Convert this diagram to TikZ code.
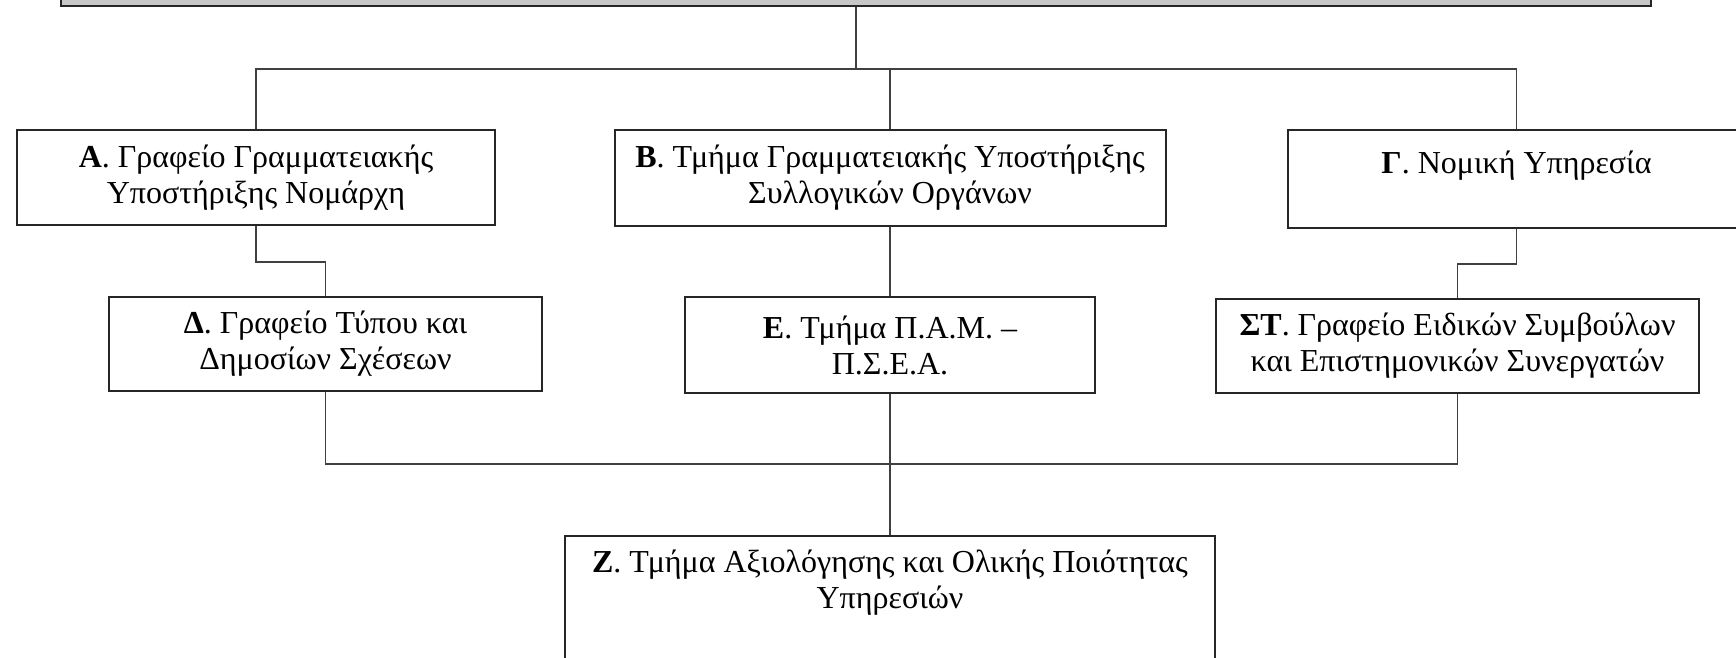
\documentclass[tikz,border=0pt]{standalone}
\usepackage{fontspec}
\setmainfont{Liberation Serif}

\begin{document}
\begin{tikzpicture}[x=1pt,y=1pt,yscale=-1,xscale=1,
  unit/.style={draw=black!85, line width=2pt, rectangle, inner sep=0pt, align=center, font=\fontsize{32}{36}\selectfont},
  link/.style={draw=black!75, line width=1.5pt}]
\useasboundingbox (0,0) rectangle (1736,657);

%Shape: Rectangle [top, cut by the page]
\node [unit, fill=black!22, minimum width=1590pt, minimum height=60pt] (top) at (856,-24) {};

%Shape: Rectangle [first row]
\node [unit, minimum width=478pt, minimum height=95pt] (A) at (256,177.5) {\textbf{Α}. Γραφείο Γραμματειακής\\ Υποστήριξης Νομάρχη};
\node [unit, minimum width=551pt, minimum height=96pt] (B) at (890,178) {\textbf{Β}. Τμήμα Γραμματειακής Υποστήριξης\\ Συλλογικών Οργάνων};
\node [unit, minimum width=457pt, minimum height=98pt] (G) at (1516.5,179) {\textbf{Γ}. Νομική Υπηρεσία\\[-14pt] \strut};

%Shape: Rectangle [second row]
\node [unit, minimum width=433pt, minimum height=94pt] (D) at (325.5,344) {\textbf{Δ}. Γραφείο Τύπου και\\ Δημοσίων Σχέσεων};
\node [unit, minimum width=410pt, minimum height=96pt] (E) at (890,345) {\textbf{Ε}. Τμήμα Π.Α.Μ. –\\ Π.Σ.Ε.Α.};
\node [unit, minimum width=483pt, minimum height=94pt] (ST) at (1457.5,346) {\textbf{ΣΤ}. Γραφείο Ειδικών Συμβούλων\\ και Επιστημονικών Συνεργατών};

%Shape: Rectangle [bottom, cut by the page]
\node [unit, minimum width=650pt, minimum height=170pt] (Z) at (890,621) {\textbf{Ζ}. Τμήμα Αξιολόγησης και Ολικής Ποιότητας\\ Υπηρεσιών\\ \strut\\ \strut};

\coordinate (bus1) at (856,69);
\coordinate (bus2) at (890,464);

%Straight Lines
\draw [link] (top.south) -- (top.south |- bus1);
\draw [link] (A.north) |- (G.north |- bus1) -- (G.north);
\draw [link] (B.north) -- (B.north |- bus1);
%Straight Lines
\draw [link] (A.south) -- ++(0,36) -| (D.north);
\draw [link] (B.south) -- (E.north);
\draw [link] (G.south) -- ++(0,35) -| (ST.north);
%Straight Lines
\draw [link] (D.south) |- (bus2) -| (ST.south);
\draw [link] (E.south) -- (Z.north);

\end{tikzpicture}
\end{document}
